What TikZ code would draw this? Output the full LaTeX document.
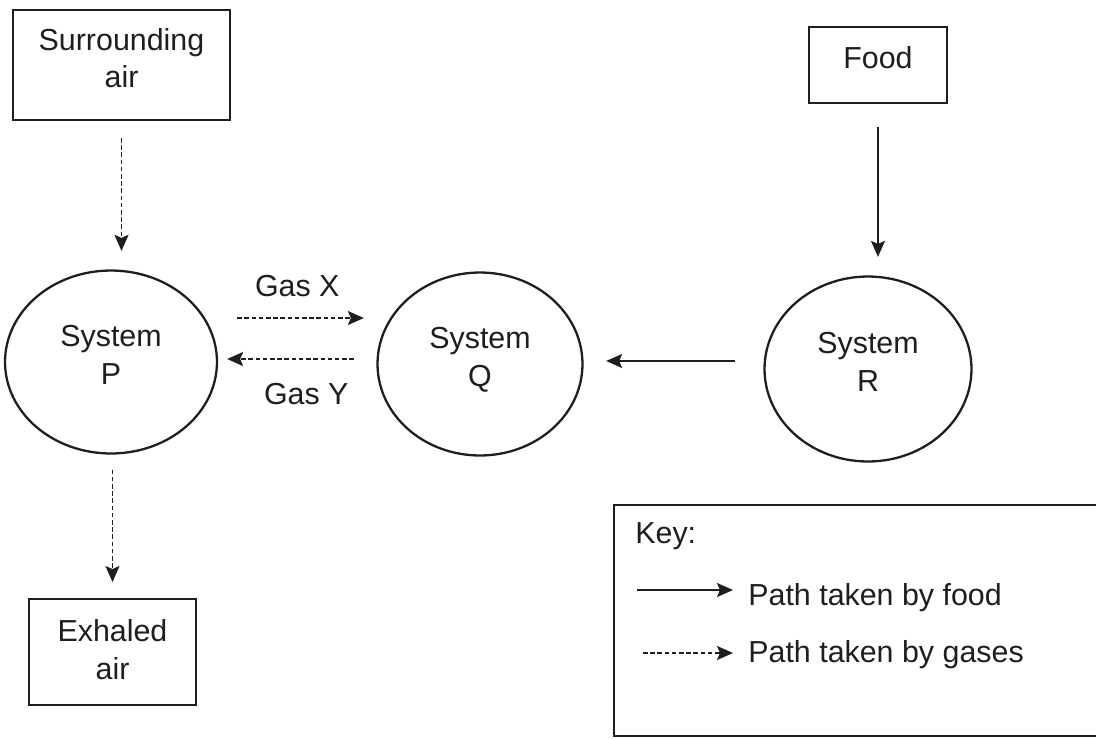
\documentclass[tikz,border=0pt]{standalone}
\usepackage{fontspec}
\setmainfont{Liberation Sans}
\usetikzlibrary{shapes.geometric, arrows.meta, positioning}
\definecolor{InkGray}{HTML}{1E1E1E}

\tikzset{
  sys/.style={draw=InkGray, ellipse, line width=1.3pt, minimum width=4.12cm,
    minimum height=3.66cm, align=center, inner sep=0pt, text depth=8pt},
  place/.style={draw=InkGray, rectangle, line width=1.1pt, align=center, inner sep=0pt, text depth=8pt},
  foodpath/.style={draw=InkGray, -{Stealth[length=3.2mm,width=2.8mm,inset=0.6mm]}, line width=1.05pt},
  gaspath/.style={foodpath, dash pattern=on 2.6pt off 1.5pt},
  tag/.style={inner sep=0pt, text=InkGray}
}

\begin{document}
\begin{tikzpicture}[x=0.02cm, y=-0.02cm, font=\fontsize{17.3}{21.5}\selectfont, text=InkGray]
  \useasboundingbox (0,0) rectangle (1096,738);
  % Sources and sinks
  \node[place, minimum width=4.34cm, minimum height=2.2cm] (air) at (121.5,65) {Surrounding\\air};
  \node[place, minimum width=2.76cm, minimum height=1.52cm] (food) at (878,65) {Food};
  \node[place, minimum width=3.34cm, minimum height=2.12cm, text depth=3pt] (exhaled) at (112.5,652) {Exhaled\\air};
  % Systems
  \node[sys, minimum width=4.24cm] (P) at (111,362) {System\\P};
  \node[sys, minimum width=4.1cm] (Q) at (480,364) {System\\Q};
  \node[sys, minimum width=4.14cm, minimum height=3.7cm] (R) at (868,369) {System\\R};
  % Gas paths
  \draw[gaspath, shorten <=0.34cm, shorten >=0.37cm] (air.south) -- (air.south |- P.north);
  \draw[gaspath, shorten <=0.3cm, shorten >=0.32cm] (exhaled.north |- P.south) -- (exhaled.north);
  \draw[gaspath, shorten <=0.38cm, shorten >=0.25cm] ([yshift=0.88cm]P.east) -- ([yshift=0.88cm]P.east -| Q.west)
    node[tag, midway, above=0.4cm] {Gas X};
  \draw[gaspath, shorten <=0.45cm, shorten >=0.18cm] ([yshift=0.1cm]Q.west) -- ([yshift=0.1cm]Q.west -| P.east)
    node[tag, midway, below=0.47cm, xshift=0.18cm] {Gas Y};
  % Food paths
  \draw[foodpath, shorten <=0.46cm, shorten >=0.37cm] (food.south) -- (food.south |- R.north);
  \draw[foodpath, shorten <=0.56cm, shorten >=0.45cm] ([yshift=0.16cm]R.west) -- ([yshift=0.16cm]R.west -| Q.east);
  % Key
  \draw[InkGray, line width=1.1pt] (1096,505) -- (614,505) -- (614,736) -- (1096,736);
  \node[tag, anchor=base west] (key) at (635,543) {Key:};
  \node[tag, anchor=base west] (keyfood) at (748,605) {Path taken by food};
  \node[tag, anchor=base west] (keygas) at (748,662) {Path taken by gases};
  \coordinate (kf) at (637,590);
  \coordinate (kg) at (643,653);
  \draw[foodpath, shorten >=0.3cm] (kf) -- (kf -| keyfood.west);
  \draw[gaspath, shorten >=0.3cm] (kg) -- (kg -| keygas.west);
\end{tikzpicture}
\end{document}
